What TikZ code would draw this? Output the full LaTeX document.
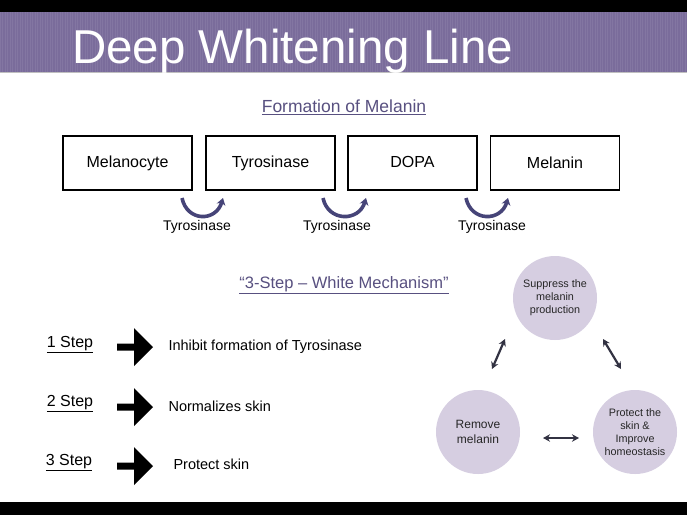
\documentclass[tikz,border=0pt]{standalone}
\usepackage{fontspec}
\setmainfont{Liberation Sans}
\usetikzlibrary{arrows.meta}
\definecolor{bandpurple}{RGB}{122,108,155}
\definecolor{titlepurple}{RGB}{88,80,128}
\definecolor{circfill}{RGB}{214,206,225}
\definecolor{arcblue}{RGB}{70,68,120}
\definecolor{dblarrow}{RGB}{50,50,66}
\begin{document}
\begin{tikzpicture}[x=1pt,y=-1pt,
  box/.style={draw,line width=1.3pt,minimum width=129pt,minimum height=54pt,inner sep=0pt,font=\fontsize{16}{19}\selectfont},
  tyro/.style={font=\fontsize{14}{17}\selectfont},
  heading/.style={text=titlepurple,font=\fontsize{16.5}{20}\selectfont},
  steplabel/.style={font=\fontsize{16}{19}\selectfont},
  steptext/.style={anchor=west,font=\fontsize{14.5}{17}\selectfont},
  circ/.style={circle,fill=circfill,minimum size=84pt,inner sep=0pt,align=center,text=black!85},
  arcarrow/.style={draw=arcblue,line width=3.6pt,-{Stealth[length=7pt,width=9pt]}},
  dbl/.style={draw=dblarrow,line width=2.2pt,{Stealth[length=7pt,width=7.5pt]}-{Stealth[length=7pt,width=7.5pt]}},
  steparrow/.pic={\fill[black] (-17,-3.5) -- (0,-3.5) -- (0,-19) -- (19,0) -- (0,19) -- (0,3.5) -- (-17,3.5) -- cycle;}
]
\useasboundingbox (0,0) rectangle (687,515);
\fill[white] (0,0) rectangle (687,515);
% bands
\fill[black] (0,0) rectangle (687,12);
\fill[bandpurple] (0,12) rectangle (687,72);
\foreach \x in {0,2.5,...,687} \draw[white,opacity=0.07,line width=0.6pt] (\x,12) -- (\x,72);
\draw[black!25,line width=0.8pt] (0,72) -- (687,72);
\fill[black] (0,502) rectangle (687,515);
\node[anchor=base west,text=white,inner sep=0pt,font=\fontsize{47.5}{52}\selectfont] (hdr) at (72,63) {Deep Whitening Line};

% formation of melanin
\node[heading,font=\fontsize{17.5}{21}\selectfont] (form) at (344,107) {\underline{Formation of Melanin}};
\node[box] (b1) at (127.5,163) {Melanocyte};
\node[box] (b2) at (270.5,163) {\raisebox{2pt}{Tyrosinase}};
\node[box] (b3) at (412.5,163) {\raisebox{2pt}{DOPA}};
\node[box] (b4) at (555,163) {Melanin};

\coordinate (c1s) at (182,198); \coordinate (c1e) at (223,198);
\coordinate (c2s) at (323,198); \coordinate (c2e) at (366,198);
\coordinate (c3s) at (466,198); \coordinate (c3e) at (508,198);
\draw[arcarrow] (c1s) .. controls (187,222) and (216,222) .. (c1e);
\draw[arcarrow] (c2s) .. controls (328,222) and (359,222) .. (c2e);
\draw[arcarrow] (c3s) .. controls (471,222) and (501,222) .. (c3e);
\node[tyro] (t1) at (197,227) {Tyrosinase};
\node[tyro] (t2) at (337,227) {Tyrosinase};
\node[tyro] (t3) at (492,227) {Tyrosinase};

% 3-step
\node[heading] (mech) at (344,285) {\underline{“3-Step – White Mechanism”}};
\node[steplabel] (s1) at (70,345) {\underline{1 Step}};
\node[steplabel] (s2) at (70,404) {\underline{2 Step}};
\node[steplabel] (s3) at (69,463) {\underline{3 Step}};
\pic (p1) at (134,347) {steparrow};
\pic (p2) at (134,407) {steparrow};
\pic (p3) at (134,466) {steparrow};
\node[steptext] (x1) at (165,347) {Inhibit formation of Tyrosinase};
\node[steptext] (x2) at (165,406) {Normalizes skin};
\node[steptext] (x3) at (170,464) {Protect skin};

% circles
\node[circ,font=\fontsize{10.8}{13}\selectfont] (sup) at (555,298) {Suppress the\\melanin\\production};
\node[circ,font=\fontsize{12}{15}\selectfont] (rem) at (478,432) {Remove\\melanin};
\node[circ,font=\fontsize{10.8}{13}\selectfont] (pro) at (635,432) {Protect the\\skin \&\\Improve\\homeostasis};
\coordinate (a1s) at (505,339); \coordinate (a1e) at (492,369);
\coordinate (a2s) at (603,339); \coordinate (a2e) at (621,369);
\coordinate (a3s) at (543,438); \coordinate (a3e) at (579,438);
\draw[dbl] (a1s) -- (a1e);
\draw[dbl] (a2s) -- (a2e);
\draw[dbl] (a3s) -- (a3e);
\end{tikzpicture}
\end{document}
